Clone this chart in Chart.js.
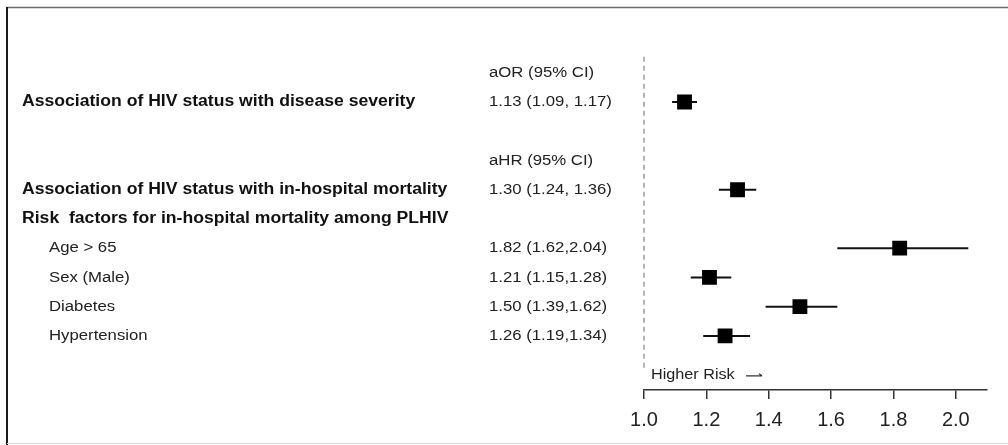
<!DOCTYPE html>
<html>
<head>
<meta charset="utf-8">
<title>HIV status and COVID-19 outcomes – forest plot</title>
<script src="https://cdn.jsdelivr.net/npm/chart.js@4/dist/chart.umd.min.js"></script>
<style>
  html, body { margin: 0; padding: 0; background: #ffffff; }
  #wrap { width: 1008px; height: 445px; position: relative; }
  canvas { display: block; }
</style>
</head>
<body>
<div id="wrap"><canvas id="forest" width="1008" height="445"></canvas></div>
<script>
// Row labels (top to bottom); empty strings are spacer / header-only rows
const rowLabels = [
  '',
  'Association of HIV status with disease severity',
  '',
  '',
  'Association of HIV status with in-hospital mortality',
  'Risk  factors for in-hospital mortality among PLHIV',
  'Age > 65',
  'Sex (Male)',
  'Diabetes',
  'Hypertension'
];
// Whether a row label is a bold section heading or an indented sub-item
const rowIsHeading = [false, true, false, false, true, true, false, false, false, false];

// Effect-size column text (headers for aOR / aHR plus the estimates)
const statText = [
  'aOR (95% CI)',
  '1.13 (1.09, 1.17)',
  '',
  'aHR (95% CI)',
  '1.30 (1.24, 1.36)',
  '',
  '1.82 (1.62,2.04)',
  '1.21 (1.15,1.28)',
  '1.50 (1.39,1.62)',
  '1.26 (1.19,1.34)'
];

// Point estimates and 95% confidence limits
const estimates = [null, 1.13, null, null, 1.30, null, 1.82, 1.21, 1.50, 1.26];
const lowerCI   = [null, 1.09, null, null, 1.24, null, 1.62, 1.15, 1.39, 1.19];
const upperCI   = [null, 1.17, null, null, 1.36, null, 2.04, 1.28, 1.62, 1.34];

// Axis ticks
const tickValues = [1.0, 1.2, 1.4, 1.6, 1.8, 2.0];
const refValue = 1.0;

const points = [];
estimates.forEach((v, i) => { if (v !== null) points.push({ x: v, y: i }); });

// Draw text with a slight horizontal stretch
function stretchText(ctx, text, x, y, font, color, sx) {
  ctx.save();
  ctx.font = font;
  ctx.fillStyle = color;
  ctx.textBaseline = 'middle';
  ctx.textAlign = 'left';
  ctx.translate(x, y);
  ctx.scale(sx, 1);
  ctx.fillText(text, 0, 0);
  ctx.restore();
}

const framePlugin = {
  id: 'frame',
  beforeDraw(chart) {
    const ctx = chart.ctx;
    ctx.save();
    ctx.fillStyle = '#ffffff';
    ctx.fillRect(0, 0, chart.width, chart.height);
    // outer frame
    ctx.strokeStyle = '#6e6e6e';
    ctx.lineWidth = 1.5;
    ctx.beginPath(); ctx.moveTo(6, 7.5); ctx.lineTo(chart.width, 7.5); ctx.stroke();
    ctx.strokeStyle = '#1a1a1a';
    ctx.lineWidth = 2;
    ctx.beginPath(); ctx.moveTo(7, 7); ctx.lineTo(7, chart.height); ctx.stroke();
    ctx.strokeStyle = '#dcdcdc';
    ctx.lineWidth = 1;
    ctx.beginPath(); ctx.moveTo(7, 443.5); ctx.lineTo(chart.width, 443.5); ctx.stroke();
    ctx.restore();
  }
};

const forestPlugin = {
  id: 'forest',
  beforeDatasetsDraw(chart) {
    const ctx = chart.ctx;
    const xs = chart.scales.x, ys = chart.scales.y;
    ctx.save();
    // reference line at no effect
    const xr = xs.getPixelForValue(refValue);
    ctx.strokeStyle = '#9c9c9c';
    ctx.lineWidth = 1.5;
    ctx.setLineDash([5, 4]);
    ctx.beginPath();
    ctx.moveTo(xr, ys.getPixelForValue(-0.55));
    ctx.lineTo(xr, ys.getPixelForValue(10.15));
    ctx.stroke();
    ctx.setLineDash([]);
    // confidence interval whiskers
    ctx.strokeStyle = '#111111';
    ctx.lineWidth = 2;
    estimates.forEach((v, i) => {
      if (v === null) return;
      const y = ys.getPixelForValue(i);
      ctx.beginPath();
      ctx.moveTo(xs.getPixelForValue(lowerCI[i]), y);
      ctx.lineTo(xs.getPixelForValue(upperCI[i]), y);
      ctx.stroke();
    });
    ctx.restore();
  },
  afterDraw(chart) {
    const ctx = chart.ctx;
    const xs = chart.scales.x, ys = chart.scales.y;
    rowLabels.forEach((lab, i) => {
      if (!lab) return;
      const y = ys.getPixelForValue(i);
      if (rowIsHeading[i]) {
        stretchText(ctx, lab, 22, y, 'bold 16px "Liberation Sans", Arial, sans-serif', '#111111', 1.1);
      } else {
        stretchText(ctx, lab, 49, y, '15.5px "Liberation Sans", Arial, sans-serif', '#222222', 1.08);
      }
    });
    statText.forEach((t, i) => {
      if (!t) return;
      stretchText(ctx, t, 489, ys.getPixelForValue(i), '15.5px "Liberation Sans", Arial, sans-serif', '#222222', 1.08);
    });
    // direction note below the reference line
    const xr = xs.getPixelForValue(refValue);
    const yn = ys.getPixelForValue(10.33);
    stretchText(ctx, 'Higher Risk', xr + 7, yn, '15px "Liberation Sans", Arial, sans-serif', '#222222', 1.08);
    ctx.save();
    ctx.strokeStyle = '#333333';
    ctx.lineWidth = 1.2;
    ctx.beginPath();
    ctx.moveTo(xr + 102, yn + 1); ctx.lineTo(xr + 118, yn + 1);
    ctx.moveTo(xr + 115, yn - 1); ctx.lineTo(xr + 118, yn + 1);
    ctx.stroke();
    ctx.restore();
  }
};

new Chart(document.getElementById('forest'), {
  type: 'scatter',
  data: {
    datasets: [{
      data: points,
      pointStyle: 'rect',
      pointRadius: 10.5,
      pointBackgroundColor: '#000000',
      pointBorderColor: '#000000',
      pointBorderWidth: 0
    }]
  },
  options: {
    responsive: false,
    animation: false,
    layout: { padding: { left: 644, right: 21, top: 43.5, bottom: 0 } },
    plugins: { legend: { display: false }, tooltip: { enabled: false } },
    scales: {
      x: {
        type: 'linear',
        min: 1.0,
        max: 2.1,
        afterBuildTicks: axis => { axis.ticks = tickValues.map(v => ({ value: v })); },
        afterFit: axis => { axis.height = 55; },
        ticks: {
          callback: v => Number(v).toFixed(1),
          font: { family: '"Liberation Sans", Arial, sans-serif', size: 20 },
          color: '#222222',
          padding: 9,
          maxRotation: 0,
          autoSkip: false
        },
        grid: { drawOnChartArea: false, drawTicks: true, tickLength: 9, color: '#333333', lineWidth: 1.5 },
        border: { display: true, color: '#333333', width: 1.5 }
      },
      y: {
        type: 'linear',
        reverse: true,
        min: -1,
        max: 10.85,
        display: false
      }
    }
  },
  plugins: [framePlugin, forestPlugin]
});
</script>
</body>
</html>
